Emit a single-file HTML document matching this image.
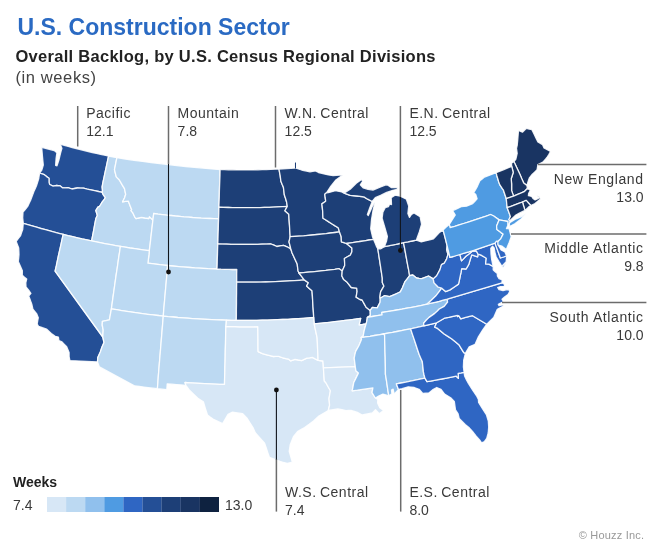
<!DOCTYPE html>
<html lang="en">
<head>
<meta charset="utf-8">
<title>U.S. Construction Sector</title>
<style>
html,body{margin:0;padding:0;background:#fff;}
body{width:659px;height:553px;position:relative;overflow:hidden;font-family:"Liberation Sans",Arial,sans-serif;color:#333;}
.t{position:absolute;white-space:nowrap;line-height:1;}
#title{left:17.5px;top:15.8px;font-size:23px;font-weight:bold;color:#2a6ac3;}
#sub{left:15.5px;top:47.9px;font-size:16.5px;letter-spacing:0.28px;font-weight:bold;color:#222;}
#unit{left:15.5px;top:69.3px;font-size:16.5px;letter-spacing:0.6px;color:#444;}
.lab{font-size:14px;line-height:18.2px;letter-spacing:0.5px;word-spacing:-1px;color:#3a3a3a;}
.lab i{font-style:normal;letter-spacing:0;}
.r{text-align:right;word-spacing:0;letter-spacing:0.6px;}
svg{position:absolute;left:0;top:0;}
#weeks{left:13px;top:475px;font-size:14px;font-weight:bold;color:#222;}
#lo{left:13px;top:498px;font-size:14px;color:#3a3a3a;}
#hi{left:225px;top:498px;font-size:14px;color:#3a3a3a;}
#credit{right:14.7px;top:530.4px;font-size:11px;letter-spacing:0.2px;color:#999;}
</style>
</head>
<body>
<svg width="659" height="553" viewBox="0 0 659 553">
<g stroke="#fff" stroke-width="1.3" stroke-opacity="0.88" stroke-linejoin="round">
<g fill="#244f96">
<path d="M60.2,144.2L61.9,148.3L60.5,153.3L58.9,160.0L57.0,165.8L55.6,165.4L56.1,158.3L56.9,152.8L54.2,150.6L48.3,149.0L41.7,147.3L42.5,156.7L43.3,165.0L41.8,170.0L39.6,173.0L42.0,173.8L44.3,174.7L46.6,176.6L49.0,178.2L49.0,182.4L49.7,184.5L53.1,186.1L56.6,185.5L60.3,185.9L62.7,187.9L65.3,187.8L68.0,187.7L71.9,189.0L74.6,188.5L77.4,188.0L80.4,188.1L83.5,188.2L87.2,189.1L90.9,189.9L94.6,190.7L98.4,191.5L102.1,192.3L102.5,190.3L102.1,186.9L103.1,181.7L104.2,176.6L105.3,171.4L106.4,166.3L107.5,161.1L108.6,156.0L104.5,155.2L100.4,154.3L96.4,153.4L92.3,152.5L88.3,151.5L84.3,150.5L80.3,149.5L76.2,148.5L72.2,147.5L68.2,146.4L64.2,145.3Z"/>
<path d="M39.6,173.0L38.7,178.8L37.6,182.3L36.5,185.8L35.2,188.7L33.9,191.5L32.4,195.6L30.9,199.6L29.3,203.0L27.7,206.4L25.4,209.3L23.0,212.2L22.7,217.9L23.3,223.3L27.7,224.6L32.1,225.9L36.6,227.2L41.0,228.5L45.4,229.7L49.9,230.9L54.3,232.1L58.8,233.3L63.2,234.4L67.9,235.6L72.7,236.7L77.4,237.8L82.1,238.9L86.9,239.9L91.6,240.9L92.7,235.3L93.8,229.7L94.8,224.1L95.9,218.5L97.3,215.4L96.7,213.3L95.8,210.6L97.9,207.2L99.5,206.4L100.4,205.0L102.3,201.9L104.1,199.7L105.3,197.6L103.0,194.3L102.1,192.3L98.4,191.5L94.6,190.7L90.9,189.9L87.2,189.1L83.5,188.2L80.4,188.1L77.4,188.0L74.6,188.5L71.9,189.0L68.0,187.7L65.3,187.8L62.7,187.9L60.3,185.9L56.6,185.5L53.1,186.1L49.7,184.5L49.0,182.4L49.0,178.2L46.6,176.6L44.3,174.7L42.0,173.8Z"/>
<path d="M23.3,223.3L23.0,226.4L22.7,229.6L21.6,232.5L20.6,235.5L18.4,238.4L16.2,241.4L18.7,248.0L18.9,251.3L19.0,254.6L18.7,258.1L18.3,261.6L20.3,266.1L22.4,270.7L22.3,275.2L24.5,277.2L26.7,279.1L25.8,282.8L26.0,286.8L29.3,291.0L30.9,293.4L28.7,296.1L30.3,300.1L31.8,304.2L32.9,309.1L36.8,314.0L38.3,317.7L37.7,320.8L37.2,324.0L38.5,326.3L42.5,327.7L46.5,329.0L48.9,331.2L51.3,333.4L55.2,336.3L58.4,337.1L58.9,340.5L62.0,341.9L64.4,344.4L66.7,346.8L69.1,352.6L69.1,356.5L69.9,360.6L97.5,362.0L97.8,357.5L100.3,352.0L102.0,347.0L104.0,342.5L102.8,337.0L55.1,271.1L56.3,265.9L57.4,260.6L58.5,255.3L59.7,250.1L60.9,244.8L62.0,239.6L63.2,234.4L58.8,233.3L54.3,232.1L49.9,230.9L45.4,229.7L41.0,228.5L36.6,227.2L32.1,225.9L27.7,224.6Z"/>
</g>
<g fill="#bcd9f2">
<path d="M116.9,157.7L112.7,156.9L108.6,156.0L107.5,161.1L106.4,166.3L105.3,171.4L104.2,176.6L103.1,181.7L102.1,186.9L102.5,190.3L102.1,192.3L103.0,194.3L105.3,197.6L104.1,199.7L102.3,201.9L100.4,205.0L99.5,206.4L97.9,207.2L95.8,210.6L96.7,213.3L97.3,215.4L95.9,218.5L94.8,224.1L93.8,229.7L92.7,235.3L91.6,240.9L96.4,241.9L101.2,242.9L106.0,243.8L110.8,244.7L115.6,245.6L120.4,246.4L125.2,247.2L130.0,248.0L134.9,248.7L139.7,249.4L144.5,250.1L149.3,250.7L150.1,244.6L150.8,238.4L151.5,232.3L152.2,226.2L152.9,220.1L149.4,216.6L148.8,218.5L145.1,218.0L141.4,217.4L138.7,218.0L136.0,218.6L134.8,217.1L132.9,212.9L131.0,210.6L131.7,209.7L130.0,205.4L128.3,201.1L125.4,201.4L122.6,201.8L124.6,197.8L125.7,194.3L124.5,188.7L122.2,184.9L119.4,180.0L116.3,176.9L115.4,173.3L114.5,169.7L115.3,165.7L116.1,161.7Z"/>
<path d="M220.1,169.5L211.5,168.9L202.8,168.1L194.2,167.3L185.6,166.5L176.9,165.6L168.3,164.6L159.7,163.6L151.1,162.5L142.5,161.4L134.0,160.3L125.4,159.0L116.9,157.7L116.1,161.7L115.3,165.7L114.5,169.7L115.4,173.3L116.3,176.9L119.4,180.0L122.2,184.9L124.5,188.7L125.7,194.3L124.6,197.8L122.6,201.8L125.4,201.4L128.3,201.1L130.0,205.4L131.7,209.7L131.0,210.6L132.9,212.9L134.8,217.1L136.0,218.6L138.7,218.0L141.4,217.4L145.1,218.0L148.8,218.5L149.4,216.6L152.9,220.1L153.3,216.8L153.7,213.5L158.0,214.1L162.3,214.6L166.6,215.1L171.0,215.5L175.3,216.0L179.6,216.4L183.9,216.8L188.3,217.1L192.6,217.5L196.9,217.8L201.2,218.1L205.6,218.3L209.9,218.5L214.2,218.7L218.6,218.9L218.8,213.1L218.9,207.2L219.1,201.8L219.3,196.4L219.4,191.0L219.6,185.6L219.8,180.2L220.0,174.9Z"/>
<path d="M218.6,218.9L214.2,218.7L209.9,218.5L205.6,218.3L201.2,218.1L196.9,217.8L192.6,217.5L188.3,217.1L183.9,216.8L179.6,216.4L175.3,216.0L171.0,215.5L166.6,215.1L162.3,214.6L158.0,214.1L153.7,213.5L153.3,216.8L152.9,220.1L152.2,226.2L151.5,232.3L150.8,238.4L150.1,244.6L149.3,250.7L148.9,254.9L148.4,259.1L147.9,263.2L151.9,263.7L155.8,264.2L159.8,264.7L163.7,265.1L167.6,265.5L172.1,266.0L176.6,266.4L181.1,266.8L185.6,267.2L190.1,267.5L194.6,267.9L199.1,268.1L203.5,268.4L208.0,268.7L212.5,268.9L217.0,269.0L217.2,264.0L217.3,259.0L217.5,253.9L217.6,248.9L217.8,243.9L218.0,238.9L218.1,233.9L218.3,228.9L218.4,223.9Z"/>
<path d="M63.2,234.4L62.0,239.6L60.9,244.8L59.7,250.1L58.5,255.3L57.4,260.6L56.3,265.9L55.1,271.1L102.8,337.0L103.2,330.0L102.2,325.0L102.4,321.4L106.0,320.6L109.4,319.8L111.4,308.9L112.2,303.1L113.0,297.4L113.8,291.7L114.6,286.0L115.4,280.3L116.2,274.7L117.1,269.0L117.9,263.3L118.7,257.7L119.6,252.0L120.4,246.4L115.6,245.6L110.8,244.7L106.0,243.8L101.2,242.9L96.4,241.9L91.6,240.9L86.9,239.9L82.1,238.9L77.4,237.8L72.7,236.7L67.9,235.6Z"/>
<path d="M149.3,250.7L144.5,250.1L139.7,249.4L134.9,248.7L130.0,248.0L125.2,247.2L120.4,246.4L119.6,252.0L118.7,257.7L117.9,263.3L117.1,269.0L116.2,274.7L115.4,280.3L114.6,286.0L113.8,291.7L113.0,297.4L112.2,303.1L111.4,308.9L116.5,309.7L121.7,310.6L126.9,311.4L132.1,312.2L137.3,312.9L142.5,313.6L147.7,314.3L152.9,314.9L158.1,315.5L163.3,316.1L163.7,310.4L164.2,304.8L164.7,299.2L165.2,293.5L165.7,287.9L166.2,282.3L166.7,276.7L167.1,271.1L167.6,265.5L163.7,265.1L159.8,264.7L155.8,264.2L151.9,263.7L147.9,263.2L148.4,259.1L148.9,254.9Z"/>
<path d="M163.3,316.1L168.1,316.6L173.0,317.0L177.8,317.5L182.7,317.9L187.5,318.2L192.4,318.6L197.3,318.9L202.1,319.2L207.0,319.4L211.8,319.7L216.7,319.9L221.6,320.0L226.4,320.2L231.4,320.3L236.3,320.3L236.4,314.9L236.4,309.4L236.5,303.9L236.5,298.5L236.6,293.0L236.6,287.6L236.7,282.2L236.7,278.0L236.7,273.7L236.8,269.5L232.8,269.5L228.9,269.4L224.9,269.3L221.0,269.2L217.0,269.0L212.5,268.9L208.0,268.7L203.5,268.4L199.1,268.1L194.6,267.9L190.1,267.5L185.6,267.2L181.1,266.8L176.6,266.4L172.1,266.0L167.6,265.5L167.1,271.1L166.7,276.7L166.2,282.3L165.7,287.9L165.2,293.5L164.7,299.2L164.2,304.8L163.7,310.4Z"/>
<path d="M163.3,316.1L158.1,315.5L152.9,314.9L147.7,314.3L142.5,313.6L137.3,312.9L132.1,312.2L126.9,311.4L121.7,310.6L116.5,309.7L111.4,308.9L109.4,319.8L106.0,320.6L102.4,321.4L102.2,325.0L103.2,330.0L102.8,337.0L104.0,342.5L102.0,347.0L100.3,352.0L97.8,357.5L97.5,362.0L99.4,366.9L134.9,386.0L139.4,386.5L143.9,387.1L148.4,387.7L152.9,388.2L157.4,388.7L157.9,382.6L158.3,376.5L158.8,370.4L159.3,364.3L159.8,358.3L160.3,352.2L160.8,346.2L161.3,340.1L161.8,334.1L162.3,328.1L162.8,322.1Z"/>
<path d="M163.3,316.1L168.1,316.6L173.0,317.0L177.8,317.5L182.7,317.9L187.5,318.2L192.4,318.6L197.3,318.9L202.1,319.2L207.0,319.4L211.8,319.7L216.7,319.9L221.6,320.0L226.4,320.2L226.2,323.4L225.9,326.5L225.7,332.3L225.6,338.1L225.5,343.8L225.3,349.6L225.2,355.4L225.1,361.2L224.9,367.0L224.8,372.8L224.6,378.6L224.5,384.4L219.6,384.3L214.6,384.1L209.7,383.9L204.7,383.7L199.8,383.4L194.9,383.1L189.9,382.8L185.0,382.5L185.9,385.4L181.2,385.0L176.5,384.6L171.8,384.2L167.2,383.8L166.8,389.6L162.1,389.2L157.4,388.7L157.9,382.6L158.3,376.5L158.8,370.4L159.3,364.3L159.8,358.3L160.3,352.2L160.8,346.2L161.3,340.1L161.8,334.1L162.3,328.1L162.8,322.1Z"/>
</g>
<g fill="#1d3f77">
<path d="M279.0,169.0L274.8,169.2L270.6,169.4L266.4,169.6L262.2,169.7L258.0,169.8L253.8,169.9L249.6,169.9L245.4,169.9L241.2,169.9L237.0,169.9L232.8,169.8L228.5,169.8L224.3,169.6L220.1,169.5L220.0,174.9L219.8,180.2L219.6,185.6L219.4,191.0L219.3,196.4L219.1,201.8L218.9,207.2L223.5,207.4L228.1,207.5L232.6,207.6L237.2,207.7L241.7,207.7L246.3,207.7L250.9,207.7L255.4,207.6L260.0,207.6L264.5,207.4L269.1,207.3L273.6,207.1L278.2,206.9L282.7,206.7L287.3,206.4L286.6,202.0L285.5,198.3L284.3,194.7L283.9,191.0L283.4,187.3L282.1,184.3L280.9,181.3L280.5,178.2L280.1,175.1L279.5,172.1Z"/>
<path d="M218.9,207.2L223.5,207.4L228.1,207.5L232.6,207.6L237.2,207.7L241.7,207.7L246.3,207.7L250.9,207.7L255.4,207.6L260.0,207.6L264.5,207.4L269.1,207.3L273.6,207.1L278.2,206.9L282.7,206.7L287.3,206.4L284.9,210.8L288.8,214.3L289.1,219.9L289.5,225.5L289.8,231.1L290.2,236.7L289.0,241.8L290.0,245.5L290.9,249.3L288.4,247.5L285.9,246.4L283.5,245.3L280.1,245.9L276.8,246.5L273.9,245.2L271.0,244.0L266.5,244.1L262.1,244.2L257.7,244.3L253.3,244.4L248.8,244.4L244.4,244.4L240.0,244.4L235.5,244.3L231.1,244.3L226.7,244.2L222.2,244.1L217.8,243.9L218.0,238.9L218.1,233.9L218.3,228.9L218.4,223.9L218.6,218.9L218.8,213.1Z"/>
<path d="M217.8,243.9L222.2,244.1L226.7,244.2L231.1,244.3L235.5,244.3L240.0,244.4L244.4,244.4L248.8,244.4L253.3,244.4L257.7,244.3L262.1,244.2L266.5,244.1L271.0,244.0L273.9,245.2L276.8,246.5L280.1,245.9L283.5,245.3L285.9,246.4L288.4,247.5L290.9,249.3L292.1,253.0L293.5,256.0L294.9,259.1L297.2,264.0L297.6,267.4L298.1,270.9L299.0,273.0L301.6,276.4L304.2,279.9L299.4,280.3L294.6,280.6L289.8,280.9L284.9,281.2L280.1,281.4L275.3,281.6L270.5,281.8L265.7,282.0L260.8,282.1L256.0,282.2L251.2,282.2L246.3,282.2L241.5,282.2L236.7,282.2L236.7,278.0L236.7,273.7L236.8,269.5L232.8,269.5L228.9,269.4L224.9,269.3L221.0,269.2L217.0,269.0L217.2,264.0L217.3,259.0L217.5,253.9L217.6,248.9Z"/>
<path d="M236.7,282.2L241.5,282.2L246.3,282.2L251.2,282.2L256.0,282.2L260.8,282.1L265.7,282.0L270.5,281.8L275.3,281.6L280.1,281.4L284.9,281.2L289.8,280.9L294.6,280.6L299.4,280.3L304.2,279.9L308.4,282.8L306.6,286.1L309.3,288.4L312.0,290.7L312.4,296.1L312.7,301.4L313.0,306.7L313.4,312.1L313.7,317.4L308.6,317.9L303.4,318.3L298.3,318.6L293.1,319.0L288.0,319.3L282.8,319.5L277.7,319.7L272.5,319.9L267.4,320.1L262.2,320.2L257.0,320.3L251.9,320.4L246.7,320.4L241.5,320.4L236.3,320.3L236.4,314.9L236.4,309.4L236.5,303.9L236.5,298.5L236.6,293.0L236.6,287.6Z"/>
<path d="M279.0,169.0L294.9,168.0L294.9,162.8L296.0,162.8L296.0,168.2L301.6,170.0L310.0,171.8L315.5,170.9L318.5,172.5L328.3,174.9L333.1,175.5L342.8,174.9L335.5,180.3L330.7,186.4L326.5,192.8L324.8,194.2L325.2,197.7L325.7,201.2L321.9,203.9L322.3,207.6L322.7,211.3L322.8,214.8L323.0,218.2L325.5,219.8L328.0,221.4L332.1,224.0L335.1,225.9L338.2,227.7L339.5,231.9L335.0,232.5L330.5,233.0L326.1,233.6L321.6,234.1L317.1,234.5L312.6,235.0L308.1,235.4L303.7,235.8L299.2,236.1L294.7,236.4L290.2,236.7L289.8,231.1L289.5,225.5L289.1,219.9L288.8,214.3L284.9,210.8L287.3,206.4L286.6,202.0L285.5,198.3L284.3,194.7L283.9,191.0L283.4,187.3L282.1,184.3L280.9,181.3L280.5,178.2L280.1,175.1L279.5,172.1Z"/>
<path d="M290.2,236.7L294.7,236.4L299.2,236.1L303.7,235.8L308.1,235.4L312.6,235.0L317.1,234.5L321.6,234.1L326.1,233.6L330.5,233.0L335.0,232.5L339.5,231.9L341.2,236.7L341.4,241.8L343.9,242.6L346.5,243.5L351.9,247.9L351.9,251.7L350.4,255.1L347.4,256.8L344.4,258.5L344.6,262.0L344.7,265.4L342.2,271.1L339.1,268.7L334.7,269.3L330.2,269.8L325.8,270.4L321.3,270.9L316.9,271.3L312.4,271.8L308.0,272.2L303.5,272.6L299.0,273.0L298.1,270.9L297.6,267.4L297.2,264.0L294.9,259.1L293.5,256.0L292.1,253.0L290.9,249.3L290.0,245.5L289.0,241.8Z"/>
<path d="M299.0,273.0L303.5,272.6L308.0,272.2L312.4,271.8L316.9,271.3L321.3,270.9L325.8,270.4L330.2,269.8L334.7,269.3L339.1,268.7L342.2,271.1L341.9,276.0L343.7,279.6L347.2,282.3L351.3,287.5L354.0,287.8L356.7,288.1L357.1,291.4L356.1,297.1L360.0,299.5L362.1,300.0L364.1,303.6L366.1,307.2L370.2,310.4L370.3,315.5L367.4,317.3L366.8,321.2L366.1,323.9L362.6,324.5L359.1,325.0L359.9,321.6L360.7,318.3L355.5,319.1L350.4,319.8L345.2,320.4L340.0,321.1L334.9,321.7L329.7,322.3L324.5,322.8L319.3,323.3L314.2,323.8L313.9,320.6L313.7,317.4L313.4,312.1L313.0,306.7L312.7,301.4L312.4,296.1L312.0,290.7L309.3,288.4L306.6,286.1L308.4,282.8L304.2,279.9L301.6,276.4Z"/>
</g>
<g fill="#1d3f77">
<path d="M326.5,192.8L328.3,192.7L335.5,190.7L341.6,191.9L344.1,193.1L350.2,195.4L357.0,196.0L363.9,196.9L367.7,199.2L372.2,201.5L369.7,208.0L367.4,214.5L368.3,215.6L371.0,209.5L373.6,203.6L374.9,202.6L373.0,210.6L371.5,219.7L370.7,228.8L372.6,237.0L373.5,239.3L369.0,240.0L364.5,240.8L360.0,241.5L355.5,242.2L351.0,242.8L346.5,243.5L343.9,242.6L341.4,241.8L341.2,236.7L339.5,231.9L338.2,227.7L335.1,225.9L332.1,224.0L328.0,221.4L325.5,219.8L323.0,218.2L322.8,214.8L322.7,211.3L322.3,207.6L321.9,203.9L325.7,201.2L325.2,197.7L324.8,194.2Z"/>
<path d="M346.5,243.5L351.0,242.8L355.5,242.2L360.0,241.5L364.5,240.8L369.0,240.0L373.5,239.3L375.1,243.1L376.7,247.0L377.8,248.7L378.7,254.5L379.6,260.4L380.5,266.2L381.4,272.1L382.3,278.0L382.3,282.5L383.9,286.1L380.6,291.8L379.9,297.1L380.2,298.3L380.1,302.2L377.2,307.9L372.4,307.4L370.2,310.4L366.1,307.2L364.1,303.6L362.1,300.0L360.0,299.5L356.1,297.1L357.1,291.4L356.7,288.1L354.0,287.8L351.3,287.5L347.2,282.3L343.7,279.6L341.9,276.0L342.2,271.1L344.7,265.4L344.6,262.0L344.4,258.5L347.4,256.8L350.4,255.1L351.9,251.7L351.9,247.9Z"/>
<path d="M377.8,248.7L380.9,248.8L384.3,246.7L388.2,245.9L392.0,245.2L395.9,244.4L399.7,243.5L403.5,242.7L404.6,248.2L405.6,253.7L406.6,259.1L407.6,264.6L408.7,270.2L409.6,275.7L407.2,278.8L404.8,281.9L402.3,288.0L400.3,291.9L397.9,293.0L395.5,294.2L392.6,295.4L389.6,296.6L387.0,296.1L384.3,295.7L380.2,298.3L379.9,297.1L380.6,291.8L383.9,286.1L382.3,282.5L382.3,278.0L381.4,272.1L380.5,266.2L379.6,260.4L378.7,254.5Z"/>
<path d="M403.5,242.7L407.8,241.9L412.1,241.0L416.4,240.1L421.3,241.9L424.1,241.2L427.4,240.4L430.7,239.5L433.5,238.8L436.3,235.8L439.1,232.7L443.1,229.9L444.5,235.3L445.9,240.8L447.2,246.2L446.7,249.5L447.9,254.4L446.8,258.6L444.3,263.2L441.5,264.6L440.0,269.6L436.7,275.7L433.2,278.9L428.5,276.0L425.1,277.4L421.8,278.7L419.1,278.4L416.5,278.0L412.8,275.0L409.6,275.7L408.7,270.2L407.6,264.6L406.6,259.1L405.6,253.7L404.6,248.2Z"/>
<path d="M384.3,246.7L386.6,241.0L387.4,236.4L385.2,228.8L382.1,218.2L382.9,212.1L385.2,207.6L388.5,206.6L389.7,204.0L391.5,204.5L391.2,197.7L395.0,195.2L400.3,196.2L406.4,199.2L408.7,206.0L407.9,213.6L409.5,217.4L411.5,214.5L414.0,212.9L420.1,216.7L421.6,224.3L419.3,231.9L417.1,237.9L416.4,240.1L412.1,241.0L407.8,241.9L403.5,242.7L399.7,243.5L395.9,244.4L392.0,245.2L388.2,245.9Z"/>
<path d="M344.1,193.1L350.2,189.3L356.3,183.2L361.6,179.4L362.6,181.3L360.3,184.8L363.1,187.8L368.0,189.3L373.0,190.1L380.6,187.0L385.9,184.8L388.0,185.2L391.2,187.6L397.3,187.6L397.3,189.3L392.8,190.3L386.7,192.4L380.6,195.4L375.3,197.7L372.2,201.5L367.7,199.2L363.9,196.9L357.0,196.0L350.2,195.4Z"/>
</g>
<g fill="#d7e7f6">
<path d="M225.9,326.5L230.4,326.6L235.0,326.7L239.6,326.8L244.1,326.8L248.7,326.8L253.3,326.8L257.8,326.7L257.9,332.9L258.0,339.1L258.0,345.4L258.1,351.6L262.4,353.6L266.8,354.8L270.0,355.6L273.3,356.5L276.0,356.4L278.7,356.3L283.1,358.0L285.8,358.6L288.5,359.1L290.7,360.9L295.0,359.3L298.3,360.0L301.6,360.6L304.2,359.4L306.9,358.1L309.6,357.8L312.3,357.4L315.2,358.9L318.1,360.3L322.9,361.0L323.2,364.4L323.4,367.8L323.7,372.2L324.0,376.6L324.3,381.0L325.9,382.8L328.1,386.8L330.4,390.8L329.7,394.7L329.0,398.7L329.3,401.9L329.6,405.2L328.3,410.5L323.6,413.3L318.9,416.0L316.2,418.5L313.5,421.0L309.1,424.3L304.6,427.5L301.3,429.4L297.9,431.2L293.4,436.7L291.8,440.7L290.2,444.7L289.7,448.0L289.2,451.3L290.5,455.8L291.8,460.4L292.4,462.2L287.2,463.5L283.6,462.5L280.1,461.4L274.8,459.4L269.4,457.3L267.8,452.6L266.2,447.8L264.6,443.1L259.9,437.9L255.3,432.8L253.0,427.6L250.1,423.0L247.3,418.5L242.7,413.7L237.6,412.9L232.5,412.1L228.0,414.4L225.3,419.1L222.6,423.7L217.8,421.4L213.0,419.1L210.2,417.1L207.5,415.0L206.1,410.6L204.7,406.2L203.4,401.8L200.6,400.0L197.9,398.2L193.6,394.1L189.3,389.9L185.9,385.4L185.0,382.5L189.9,382.8L194.9,383.1L199.8,383.4L204.7,383.7L209.7,383.9L214.6,384.1L219.6,384.3L224.5,384.4L224.6,378.6L224.8,372.8L224.9,367.0L225.1,361.2L225.2,355.4L225.3,349.6L225.5,343.8L225.6,338.1L225.7,332.3Z"/>
<path d="M236.3,320.3L241.5,320.4L246.7,320.4L251.9,320.4L257.0,320.3L262.2,320.2L267.4,320.1L272.5,319.9L277.7,319.7L282.8,319.5L288.0,319.3L293.1,319.0L298.3,318.6L303.4,318.3L308.6,317.9L313.7,317.4L313.9,320.6L314.2,323.8L315.1,328.4L316.1,333.0L317.1,337.7L317.4,343.3L317.6,349.0L317.9,354.6L318.1,360.3L315.2,358.9L312.3,357.4L309.6,357.8L306.9,358.1L304.2,359.4L301.6,360.6L298.3,360.0L295.0,359.3L290.7,360.9L288.5,359.1L285.8,358.6L283.1,358.0L278.7,356.3L276.0,356.4L273.3,356.5L270.0,355.6L266.8,354.8L262.4,353.6L258.1,351.6L258.0,345.4L258.0,339.1L257.9,332.9L257.8,326.7L253.3,326.8L248.7,326.8L244.1,326.8L239.6,326.8L235.0,326.7L230.4,326.6L225.9,326.5L226.2,323.4L226.4,320.2L231.4,320.3Z"/>
<path d="M314.2,323.8L319.3,323.3L324.5,322.8L329.7,322.3L334.9,321.7L340.0,321.1L345.2,320.4L350.4,319.8L355.5,319.1L360.7,318.3L359.9,321.6L359.1,325.0L362.6,324.5L366.1,323.9L365.1,327.3L364.2,330.7L363.2,336.0L361.2,337.6L361.5,339.5L358.9,345.7L355.7,351.4L354.9,354.7L354.2,358.1L355.3,366.6L323.4,367.8L323.2,364.4L322.9,361.0L318.1,360.3L317.9,354.6L317.6,349.0L317.4,343.3L317.1,337.7L316.1,333.0L315.1,328.4Z"/>
<path d="M323.4,367.8L355.3,366.6L355.9,370.8L358.4,373.1L356.1,377.9L353.7,382.8L353.0,386.8L352.2,390.8L357.4,390.2L362.6,389.4L367.7,388.7L372.9,387.9L372.0,392.6L375.4,398.0L377.8,399.5L377.6,402.9L379.8,407.8L383.5,410.4L379.3,413.7L375.5,409.8L372.3,412.9L367.3,413.9L362.2,415.0L357.4,412.4L354.5,411.4L351.6,410.5L348.7,410.5L345.9,410.6L341.9,409.7L337.8,408.9L333.1,409.7L328.3,410.5L329.6,405.2L329.3,401.9L329.0,398.7L329.7,394.7L330.4,390.8L328.1,386.8L325.9,382.8L324.3,381.0L324.0,376.6L323.7,372.2Z"/>
</g>
<g fill="#90c0ed">
<path d="M370.2,310.4L372.4,307.4L377.2,307.9L380.1,302.2L380.2,298.3L384.3,295.7L387.0,296.1L389.6,296.6L392.6,295.4L395.5,294.2L397.9,293.0L400.3,291.9L402.3,288.0L404.8,281.9L407.2,278.8L409.6,275.7L412.8,275.0L416.5,278.0L419.1,278.4L421.8,278.7L425.1,277.4L428.5,276.0L433.2,278.9L434.1,282.9L438.1,287.0L441.8,288.2L438.8,292.2L435.7,296.1L431.3,300.2L426.9,304.2L421.9,305.3L416.9,306.3L411.9,307.3L406.9,308.2L401.9,309.2L396.9,310.0L391.9,310.9L386.9,311.7L381.8,312.5L382.1,314.8L377.2,315.7L372.3,316.5L367.4,317.3L370.3,315.5Z"/>
<path d="M367.4,317.3L372.3,316.5L377.2,315.7L382.1,314.8L381.8,312.5L386.9,311.7L391.9,310.9L396.9,310.0L401.9,309.2L406.9,308.2L411.9,307.3L416.9,306.3L421.9,305.3L426.9,304.2L431.0,303.2L435.0,302.3L439.1,301.3L443.1,300.2L447.2,299.2L447.6,302.2L444.2,306.4L441.8,307.7L439.3,309.0L437.1,311.2L434.8,313.4L432.0,315.4L429.1,317.4L426.4,320.0L423.7,323.2L423.9,325.8L419.5,326.8L415.0,327.8L410.6,328.8L406.1,329.7L401.5,330.6L397.0,331.5L392.5,332.4L387.9,333.2L383.4,334.0L378.9,334.8L374.5,335.5L370.1,336.3L365.7,336.9L361.2,337.6L363.2,336.0L364.2,330.7L365.1,327.3L366.1,323.9L366.8,321.2Z"/>
<path d="M361.2,337.6L365.7,336.9L370.1,336.3L374.5,335.5L378.9,334.8L383.4,334.0L384.6,335.1L384.7,340.7L384.9,346.2L385.0,351.8L385.2,357.3L385.3,362.9L385.4,368.5L385.4,374.1L386.3,379.5L387.1,384.9L387.9,390.3L388.8,395.8L385.8,394.9L382.9,394.1L378.6,396.1L375.4,398.0L372.0,392.6L372.9,387.9L367.7,388.7L362.6,389.4L357.4,390.2L352.2,390.8L353.0,386.8L353.7,382.8L356.1,377.9L358.4,373.1L355.9,370.8L355.3,366.6L354.2,358.1L354.9,354.7L355.7,351.4L358.9,345.7L361.5,339.5Z"/>
<path d="M383.4,334.0L387.9,333.2L392.5,332.4L397.0,331.5L401.5,330.6L406.1,329.7L410.6,328.8L412.3,333.9L414.1,339.1L415.8,344.3L417.5,349.5L419.3,354.8L420.8,358.2L422.3,361.6L422.9,366.7L423.4,371.9L424.1,375.0L424.9,378.1L420.1,379.1L415.4,380.1L410.6,381.1L405.9,382.1L401.1,383.0L396.4,383.9L398.5,389.5L394.2,394.1L393.1,389.1L391.5,390.0L391.9,393.9L388.8,395.8L387.9,390.3L387.1,384.9L386.3,379.5L385.4,374.1L385.4,368.5L385.3,362.9L385.2,357.3L385.0,351.8L384.9,346.2L384.7,340.7L384.6,335.1Z"/>
</g>
<g fill="#2f66c3">
<path d="M464.1,372.4L464.6,376.0L466.5,380.0L468.4,383.5L472.5,390.0L476.9,396.5L478.4,399.5L478.6,402.5L482.0,408.0L486.5,415.0L488.3,421.0L488.7,427.0L488.2,433.0L486.7,438.5L484.5,441.5L481.6,442.8L479.6,440.0L476.0,436.0L472.5,431.5L469.5,428.1L465.2,424.5L459.2,418.4L458.0,413.5L455.5,409.9L454.3,401.4L450.7,397.8L444.6,394.1L441.0,389.3L436.7,387.5L432.5,389.9L428.8,392.9L422.8,393.5L419.1,389.3L414.3,387.5L408.2,386.8L402.1,388.7L398.5,389.5L396.4,383.9L401.1,383.0L405.9,382.1L410.6,381.1L415.4,380.1L420.1,379.1L424.9,378.1L427.0,381.6L431.9,380.8L436.8,379.9L441.7,379.0L446.5,378.1L451.4,377.2L456.3,376.2L458.4,378.4L458.1,373.3L461.1,372.9Z"/>
<path d="M410.6,328.8L415.0,327.8L419.5,326.8L423.9,325.8L428.2,324.8L432.4,323.8L436.6,322.8L434.7,327.2L437.6,328.4L440.9,331.2L444.2,334.0L447.9,336.4L451.6,338.7L455.3,341.7L458.9,344.7L461.3,348.6L463.8,352.6L465.4,353.3L463.7,360.1L463.4,366.8L464.1,372.4L461.1,372.9L458.1,373.3L458.4,378.4L456.3,376.2L451.4,377.2L446.5,378.1L441.7,379.0L436.8,379.9L431.9,380.8L427.0,381.6L424.9,378.1L424.1,375.0L423.4,371.9L422.9,366.7L422.3,361.6L420.8,358.2L419.3,354.8L417.5,349.5L415.8,344.3L414.1,339.1L412.3,333.9Z"/>
<path d="M436.6,322.8L440.5,320.5L444.4,318.2L448.7,317.3L453.0,316.3L457.4,315.4L457.6,316.6L458.7,315.6L460.8,318.8L464.7,317.7L468.6,316.7L472.5,315.7L486.8,324.2L482.6,330.1L478.4,336.8L475.1,344.3L469.2,346.8L465.4,353.3L463.8,352.6L461.3,348.6L458.9,344.7L455.3,341.7L451.6,338.7L447.9,336.4L444.2,334.0L440.9,331.2L437.6,328.4L434.7,327.2Z"/>
<path d="M423.9,325.8L423.7,323.2L426.4,320.0L429.1,317.4L432.0,315.4L434.8,313.4L437.1,311.2L439.3,309.0L441.8,307.7L444.2,306.4L447.6,302.2L447.2,299.2L501.9,282.8L504.6,284.5L504.3,286.3L500.5,286.6L497.6,287.5L499.0,289.6L503.0,290.6L506.0,289.8L508.8,289.5L509.7,291.5L508.0,294.5L504.5,297.0L502.0,299.2L503.5,301.8L500.5,303.2L498.3,304.3L499.0,305.6L502.5,304.9L504.0,305.8L500.5,307.5L497.3,309.2L493.7,317.4L490.1,320.9L486.8,324.2L472.5,315.7L468.6,316.7L464.7,317.7L460.8,318.8L458.7,315.6L457.6,316.6L457.4,315.4L453.0,316.3L448.7,317.3L444.4,318.2L440.5,320.5L436.6,322.8L432.4,323.8L428.2,324.8Z"/>
<path d="M447.2,299.2L443.1,300.2L439.1,301.3L435.0,302.3L431.0,303.2L426.9,304.2L431.3,300.2L435.7,296.1L438.8,292.2L441.8,288.2L445.6,291.6L450.0,289.9L454.3,287.0L458.5,284.1L459.3,280.6L460.0,277.1L460.9,272.9L461.7,268.7L466.1,269.0L468.8,264.4L470.2,259.6L471.7,254.9L474.7,255.9L477.6,256.8L478.1,254.2L480.6,254.9L484.3,257.0L486.3,258.3L485.6,263.9L488.9,264.1L493.2,266.5L493.2,269.9L494.6,271.3L497.3,273.6L497.4,276.0L499.0,278.6L502.2,279.9L501.9,282.8Z"/>
<path d="M506.2,261.7L501.9,266.3L503.1,267.8L505.2,264.6Z"/>
<path d="M433.2,278.9L436.7,275.7L440.0,269.6L441.5,264.6L444.3,263.2L446.8,258.6L447.9,254.4L446.7,249.5L447.2,246.2L448.6,251.8L449.9,257.4L453.3,256.5L456.6,255.5L459.9,254.5L460.7,257.7L461.5,260.9L463.7,258.6L465.9,256.3L468.0,254.7L470.2,253.0L472.4,251.0L476.4,251.0L478.1,254.2L477.6,256.8L474.7,255.9L471.7,254.9L470.2,259.6L468.8,264.4L466.1,269.0L461.7,268.7L460.9,272.9L460.0,277.1L459.3,280.6L458.5,284.1L454.3,287.0L450.0,289.9L445.6,291.6L441.8,288.2L438.1,287.0L434.1,282.9Z"/>
<path d="M459.9,254.5L464.3,253.2L468.8,251.9L473.2,250.5L477.5,249.1L481.9,247.6L486.3,246.2L490.7,244.7L495.0,243.1L496.8,248.1L498.6,253.0L500.4,258.0L503.5,257.0L506.6,255.9L506.2,261.7L501.9,266.3L498.8,261.4L496.2,257.0L494.8,252.0L494.2,248.0L492.6,246.3L490.8,248.3L491.0,254.0L491.6,259.0L492.4,263.0L493.2,266.5L488.9,264.1L485.6,263.9L486.3,258.3L484.3,257.0L480.6,254.9L478.1,254.2L476.4,251.0L472.4,251.0L470.2,253.0L468.0,254.7L465.9,256.3L463.7,258.6L461.5,260.9L460.7,257.7Z"/>
<path d="M495.0,243.1L496.4,241.2L498.4,240.9L498.1,245.0L501.1,249.9L504.9,251.9L506.6,255.9L503.5,257.0L500.4,258.0L498.6,253.0L496.8,248.1Z"/>
</g>
<g fill="#4f9be2">
<path d="M449.3,224.4L452.3,219.7L455.3,215.0L452.6,210.6L455.6,209.3L458.7,207.9L461.7,206.5L464.1,206.4L466.6,206.2L469.6,204.9L472.7,203.6L474.9,201.2L477.1,198.8L475.8,194.6L473.7,192.7L475.4,189.8L477.1,186.9L478.5,183.8L479.9,180.7L482.2,178.9L484.5,177.1L488.4,175.7L492.2,174.2L496.1,172.7L496.9,175.7L497.8,178.7L498.7,181.7L499.7,184.6L502.5,188.8L503.3,189.8L504.8,194.2L506.3,198.7L506.7,203.2L507.2,207.7L508.8,212.1L510.4,216.4L508.9,219.7L510.0,220.6L509.5,223.5L507.8,225.4L507.8,221.5L503.4,220.7L499.1,219.9L493.7,216.0L490.6,214.5L486.2,216.1L481.7,217.6L477.2,219.1L472.7,220.6L468.2,222.1L463.7,223.5L459.2,224.9L454.7,226.3L450.1,227.6Z"/>
<path d="M509.0,226.7L509.7,222.7L512.5,221.0L515.3,219.2L517.5,218.3L519.8,217.4L521.7,214.0L520.7,217.1L523.4,215.2L526.0,213.3L523.7,216.1L521.4,218.8L518.1,221.3L514.8,223.8L511.9,225.3Z"/>
<path d="M443.1,229.9L446.2,227.1L449.3,224.4L450.1,227.6L454.7,226.3L459.2,224.9L463.7,223.5L468.2,222.1L472.7,220.6L477.2,219.1L481.7,217.6L486.2,216.1L490.6,214.5L493.7,216.0L499.1,219.9L496.6,226.0L496.9,229.5L501.0,232.6L503.1,234.1L500.8,238.7L498.4,240.9L496.4,241.2L495.0,243.1L490.7,244.7L486.3,246.2L481.9,247.6L477.5,249.1L473.2,250.5L468.8,251.9L464.3,253.2L459.9,254.5L456.6,255.5L453.3,256.5L449.9,257.4L448.6,251.8L447.2,246.2L445.9,240.8L444.5,235.3Z"/>
<path d="M499.1,219.9L503.4,220.7L507.8,221.5L507.8,225.4L506.5,228.6L509.0,228.3L510.1,232.6L511.2,236.8L509.3,242.2L507.8,245.8L506.3,249.4L502.1,246.2L498.1,245.0L497.8,242.4L498.4,240.9L500.8,238.7L503.1,234.1L501.0,232.6L496.9,229.5L496.6,226.0Z"/>
</g>
<g fill="#193462">
<path d="M513.9,161.5L515.8,159.4L517.2,153.4L516.5,148.3L517.2,145.4L517.7,140.4L518.1,135.5L518.5,130.5L522.4,132.2L524.4,130.3L526.4,128.3L529.1,129.0L531.9,129.6L533.9,133.7L535.9,137.9L537.9,142.0L542.5,144.6L544.0,148.0L550.5,151.5L548.8,154.5L546.9,157.5L545.0,159.8L542.9,162.1L540.4,163.3L537.9,164.5L537.1,169.6L534.6,172.1L532.1,174.5L529.4,177.8L527.8,182.5L526.9,185.6L523.7,182.9L521.8,178.8L520.0,174.6L518.1,170.5L516.0,166.0Z"/>
<path d="M511.7,166.3L511.5,163.2L513.9,161.5L516.0,166.0L518.1,170.5L520.0,174.6L521.8,178.8L523.7,182.9L526.9,185.6L527.4,188.5L524.2,191.7L520.7,193.2L517.1,194.6L513.6,196.1L511.6,190.6L511.6,187.2L511.6,183.9L511.2,178.7L513.2,172.5L512.5,169.4Z"/>
<path d="M496.1,172.7L500.0,171.2L503.9,169.6L507.8,167.9L511.7,166.3L512.5,169.4L513.2,172.5L511.2,178.7L511.6,183.9L511.6,187.2L511.6,190.6L513.6,196.1L509.9,197.4L506.3,198.7L504.8,194.2L503.3,189.8L502.5,188.8L499.7,184.6L498.7,181.7L497.8,178.7L496.9,175.7Z"/>
<path d="M513.6,196.1L517.1,194.6L520.7,193.2L524.2,191.7L527.4,188.5L530.3,190.2L528.6,193.6L528.4,195.7L531.7,196.4L533.0,198.5L535.1,199.9L537.3,198.8L539.5,197.7L536.5,195.4L539.4,196.4L540.5,199.0L537.7,201.3L535.0,203.5L530.8,205.5L528.5,203.0L526.2,200.4L522.5,202.0L518.7,203.4L514.8,204.9L511.0,206.3L507.2,207.7L506.7,203.2L506.3,198.7L509.9,197.4Z"/>
<path d="M522.5,202.0L526.2,200.4L528.5,203.0L530.8,205.5L528.5,207.1L525.0,210.4L523.7,206.2Z"/>
<path d="M507.2,207.7L511.0,206.3L514.8,204.9L518.7,203.4L522.5,202.0L523.7,206.2L525.0,210.4L521.9,211.9L518.9,213.4L515.9,215.0L513.0,217.8L510.0,220.6L508.9,219.7L510.4,216.4L508.8,212.1Z"/>
</g>
</g>
<path d="M295.5,168.4V162.6" stroke="#1d3f77" stroke-width="1" fill="none"/>
<g stroke="#6c6c6c" stroke-width="1.5" fill="none">
<path d="M77.7,106V146.5"/>
<path d="M168.5,106V164"/>
<path d="M275.5,106V167.5"/>
<path d="M400.4,106V197"/>
<path d="M276.4,459V511.6"/>
<path d="M400.7,390V511.6"/>
<path d="M538,164.4H646.4"/>
<path d="M511,233.9H646.4"/>
<path d="M502,302.5H646.4"/>
</g>
<g stroke="#10151c" stroke-width="1.1" fill="none">
<path d="M168.5,164V272"/>
<path d="M400.4,197V250.5"/>
<path d="M276.4,390V459.5"/>
</g>
<g fill="#111">
<circle cx="168.5" cy="272" r="2.4"/>
<circle cx="400.4" cy="250.5" r="2.4"/>
<circle cx="276.4" cy="390" r="2.4"/>
</g>
<g>
<rect x="47" y="497" width="19.2" height="15" fill="#d7e7f6"/>
<rect x="66.1" y="497" width="19.2" height="15" fill="#bcd9f2"/>
<rect x="85.2" y="497" width="19.2" height="15" fill="#90c0ed"/>
<rect x="104.3" y="497" width="19.2" height="15" fill="#4f9be2"/>
<rect x="123.4" y="497" width="19.2" height="15" fill="#2f66c3"/>
<rect x="142.5" y="497" width="19.2" height="15" fill="#244f96"/>
<rect x="161.6" y="497" width="19.2" height="15" fill="#1d3f77"/>
<rect x="180.7" y="497" width="19.2" height="15" fill="#193462"/>
<rect x="199.8" y="497" width="19.2" height="15" fill="#0e2240"/>
</g>
</svg>
<div class="t" id="title">U.S. Construction Sector</div>
<div class="t" id="sub">Overall Backlog, by U.S. Census Regional Divisions</div>
<div class="t" id="unit">(in weeks)</div>
<div class="t lab" style="left:86.2px;top:103.7px;">Pacific<br><i>12.1</i></div>
<div class="t lab" style="left:177.6px;top:103.7px;">Mountain<br><i>7.8</i></div>
<div class="t lab" style="left:284.6px;top:103.7px;">W.N. Central<br><i>12.5</i></div>
<div class="t lab" style="left:409.4px;top:103.7px;">E.N. Central<br><i>12.5</i></div>
<div class="t lab r" style="right:15.4px;top:169.95px;">New England<br><i>13.0</i></div>
<div class="t lab r" style="right:15.4px;top:238.95px;">Middle Atlantic<br><i>9.8</i></div>
<div class="t lab r" style="right:15.4px;top:308.05px;">South Atlantic<br><i>10.0</i></div>
<div class="t lab" style="left:285px;top:483.05px;">W.S. Central<br><i>7.4</i></div>
<div class="t lab" style="left:409.4px;top:483.05px;">E.S. Central<br><i>8.0</i></div>
<div class="t" id="weeks">Weeks</div>
<div class="t" id="lo">7.4</div>
<div class="t" id="hi">13.0</div>
<div class="t" id="credit">© Houzz Inc.</div>
</body>
</html>
